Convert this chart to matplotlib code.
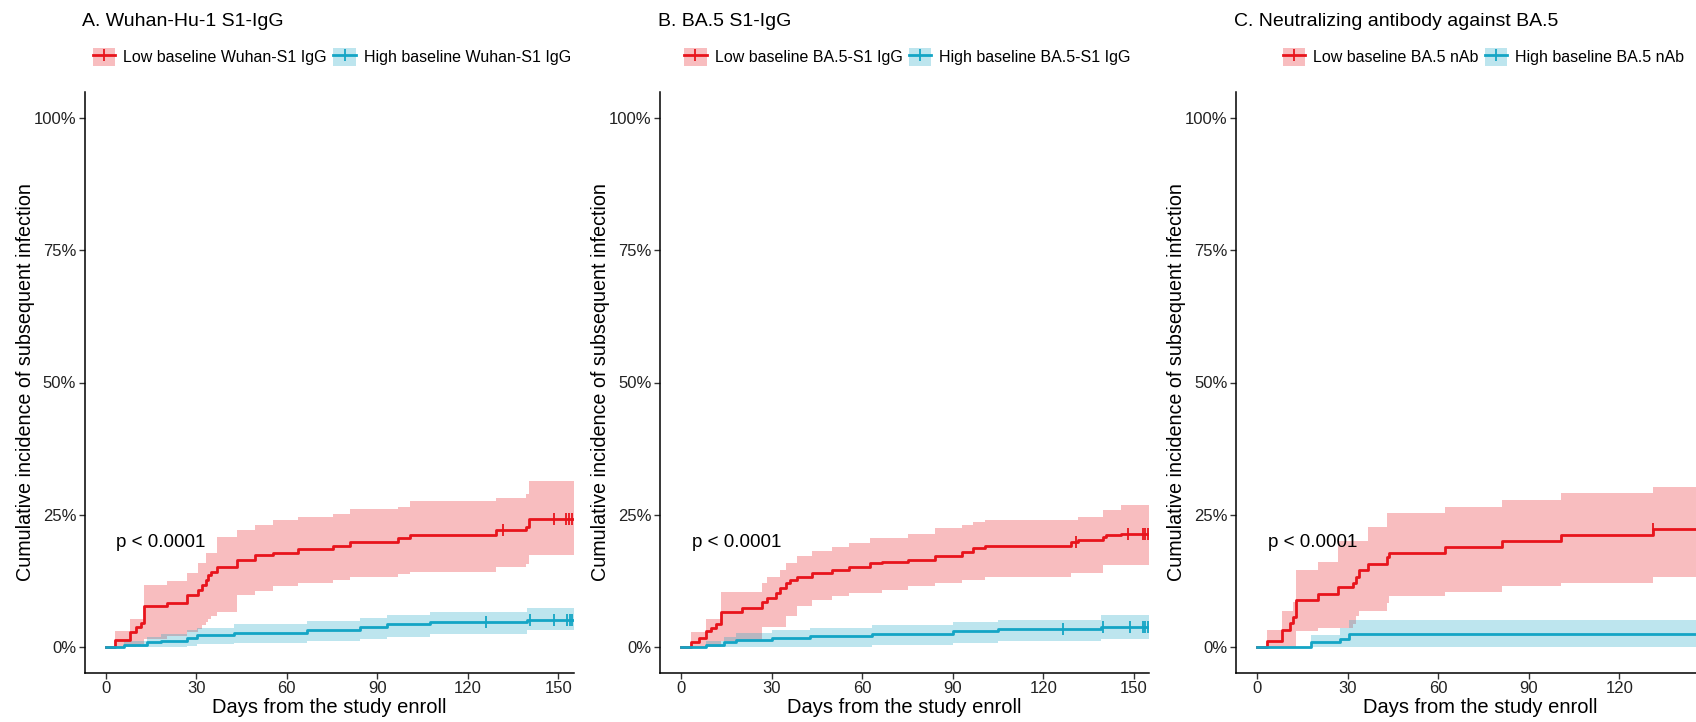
import matplotlib
matplotlib.use("Agg")
import matplotlib.pyplot as plt
from matplotlib.lines import Line2D
from matplotlib.patches import Patch
from matplotlib.ticker import FuncFormatter

plt.rcParams['font.family'] = ['Liberation Sans', 'DejaVu Sans']

# -----------------------------
# data: step times (days) and cumulative incidence (%)
# -----------------------------
END_DAY = 155

# A. Wuhan-Hu-1 S1-IgG
a_low_t = [0, 3.1, 8.1, 10.0, 11.6, 12.7, 20.2, 26.8, 30.5, 32.0, 33.1, 33.9, 35.0, 36.9,
           43.5, 49.6, 55.4, 63.6, 75.4, 81.0, 96.9, 100.8, 129.4, 139.3, 140.4]
a_low_y = [0, 1.3, 2.7, 3.7, 4.4, 7.6, 8.3, 9.8, 10.7, 11.7, 12.6, 13.6, 14.2, 15.1,
           16.4, 17.3, 17.8, 18.4, 19.0, 19.8, 20.5, 21.1, 22.0, 22.7, 24.2]
a_low_lo = [0, 0, 0, 0.3, 0.5, 1.5, 2.0, 2.8, 3.3, 4.0, 4.6, 5.3, 5.8, 6.5,
            9.8, 10.6, 11.4, 12.0, 12.6, 13.2, 13.7, 14.1, 15.1, 15.7, 17.3]
a_low_hi = [0, 3.0, 5.3, 5.3, 5.3, 11.6, 12.4, 14.0, 15.9, 15.9, 17.8, 17.8, 17.8, 20.7,
            22.0, 23.0, 23.9, 24.5, 25.1, 26.0, 26.5, 27.6, 28.2, 28.9, 31.4]
a_low_cens = [131.6, 148.5, 152.5, 153.5, 154.4]
a_high_t = [0, 6.0, 13.8, 18.2, 27.0, 30.3, 42.4, 66.6, 84.2, 93.1, 107.4, 139.6]
a_high_y = [0, 0.3, 0.8, 1.1, 1.7, 2.1, 2.6, 3.2, 3.7, 4.2, 4.6, 5.1]
a_high_lo = [0, 0, 0, 0, 0.2, 0.4, 0.7, 1.1, 1.5, 1.9, 2.3, 3.1]
a_high_hi = [0, 1.0, 1.8, 2.3, 3.2, 3.6, 4.2, 4.9, 5.5, 6.0, 6.5, 7.3]
a_high_cens = [126.1, 140.5, 148.7, 153.0, 153.8, 154.6]

# B. BA.5 S1-IgG
b_low_t = [0, 3.4, 6.0, 8.2, 9.8, 11.5, 13.1, 20.3, 26.9, 28.3, 31.3, 32.9, 34.6, 36.2,
           38.4, 43.4, 50.0, 55.5, 62.7, 66.5, 75.3, 84.1, 92.9, 96.8, 100.6, 129.3,
           131.5, 139.7, 140.8, 145.8]
b_low_y = [0, 0.9, 1.6, 2.9, 3.5, 4.3, 6.6, 7.3, 8.5, 9.2, 10.1, 11.0, 12.0, 12.6,
           13.2, 13.9, 14.5, 15.1, 15.8, 16.1, 16.4, 17.1, 18.0, 18.6, 19.0, 19.8,
           20.2, 20.8, 21.1, 21.4]
b_low_lo = [0, 0, 0, 0, 0, 0, 1.0, 1.3, 3.8, 3.8, 3.8, 3.8, 5.7, 5.7,
            7.6, 8.8, 9.5, 10.1, 10.1, 10.7, 11.4, 12.0, 12.6, 12.6, 13.2, 13.9,
            13.9, 15.4, 15.4, 15.4]
b_low_hi = [0, 2.7, 2.7, 5.2, 5.2, 5.2, 10.4, 10.4, 12.0, 13.2, 13.2, 14.5, 15.8, 15.8,
            17.1, 18.1, 18.9, 19.6, 20.5, 20.5, 21.3, 22.4, 23.0, 23.5, 23.9, 23.9,
            24.6, 25.8, 25.8, 26.8]
b_low_cens = [130.9, 148.0, 152.9, 153.8, 154.6]
b_high_t = [0, 8.2, 14.2, 18.1, 30.2, 42.8, 63.2, 90.2, 105.0, 139.2]
b_high_y = [0, 0.3, 0.8, 1.2, 1.6, 2.0, 2.4, 2.9, 3.3, 3.8]
b_high_lo = [0, 0, 0, 0, 0, 0, 0.3, 0.7, 1.0, 1.4]
b_high_hi = [0, 1.0, 1.8, 2.5, 3.1, 3.6, 4.1, 4.6, 5.0, 6.0]
b_high_cens = [126.5, 139.7, 148.7, 152.9, 153.8, 154.6]

# C. Neutralizing antibody against BA.5
c_low_t = [0, 3.3, 8.2, 11.0, 11.8, 12.9, 20.0, 26.9, 31.9, 32.8, 33.7, 36.8, 42.9,
           43.7, 62.1, 81.2, 100.7, 131.2]
c_low_y = [0, 1.0, 3.2, 4.4, 5.6, 8.8, 10.0, 11.2, 12.1, 13.2, 14.5, 15.6, 16.9,
           17.8, 18.9, 20.0, 21.1, 22.2]
c_low_lo = [0, 0, 0, 0, 0, 2.9, 3.5, 3.5, 4.3, 5.7, 6.8, 6.8, 8.2,
            9.5, 10.4, 11.4, 12.1, 13.1]
c_low_hi = [0, 3.1, 6.8, 6.8, 8.5, 14.5, 16.1, 20.0, 20.0, 20.0, 20.0, 22.7, 25.2,
            25.2, 26.4, 27.8, 29.1, 30.2]
c_low_cens = [131.2]
c_high_t = [0, 17.8, 27.5, 30.6]
c_high_y = [0, 0.8, 1.5, 2.3]
c_high_lo = [0, 0, 0, 0]
c_high_hi = [0, 2.2, 3.5, 5.0]
c_high_cens = []

titles = ["A. Wuhan-Hu-1 S1-IgG", "B. BA.5 S1-IgG", "C. Neutralizing antibody against BA.5"]
legend_labels = [
    ("Low baseline Wuhan-S1 IgG", "High baseline Wuhan-S1 IgG"),
    ("Low baseline BA.5-S1 IgG", "High baseline BA.5-S1 IgG"),
    ("Low baseline BA.5 nAb", "High baseline BA.5 nAb"),
]
p_text = "p < 0.0001"
x_ticks = [0, 30, 60, 90, 120, 150]
y_ticks = [0, 25, 50, 75, 100]

panels = [
    [(a_low_t, a_low_y, a_low_lo, a_low_hi, a_low_cens),
     (a_high_t, a_high_y, a_high_lo, a_high_hi, a_high_cens)],
    [(b_low_t, b_low_y, b_low_lo, b_low_hi, b_low_cens),
     (b_high_t, b_high_y, b_high_lo, b_high_hi, b_high_cens)],
    [(c_low_t, c_low_y, c_low_lo, c_low_hi, c_low_cens),
     (c_high_t, c_high_y, c_high_lo, c_high_hi, c_high_cens)],
]

RED = '#E8141C'
BLUE = '#14A5C5'
colors = [RED, BLUE]

# -----------------------------
# figure
# -----------------------------
W, H = 1696, 722
fig = plt.figure(figsize=(W / 100, H / 100), dpi=100)
ax_lefts = [84.5 / W, 660 / W, 1236 / W]
ax_w = 489 / W
ax_b = 49 / H
ax_h = 581 / H


def step_value(ts, ys, t):
    v = ys[0]
    for ti, yi in zip(ts, ys):
        if ti <= t:
            v = yi
    return v


for k, (left, groups) in enumerate(zip(ax_lefts, panels)):
    ax = fig.add_axes([left, ax_b, ax_w, ax_h])
    for (t, y, lo, hi, cens), col in zip(groups, colors):
        tt = list(t) + [END_DAY]
        yy = list(y) + [y[-1]]
        ll = list(lo) + [lo[-1]]
        hh = list(hi) + [hi[-1]]
        ax.fill_between(tt, ll, hh, step='post', color=col, alpha=0.28, linewidth=0)
        ax.step(tt, yy, where='post', color=col, linewidth=2.0)
        if cens:
            cy = [step_value(t, y, c) for c in cens]
            ax.plot(cens, cy, linestyle='none', marker='|', markersize=9,
                    markeredgewidth=1.3, color=col)

    ax.text(3.5, 19.8, p_text, fontsize=13.5, va='center', ha='left')

    ax.set_xlim(-7, END_DAY)
    ax.set_ylim(-5, 105)
    ax.set_xticks(x_ticks)
    ax.set_yticks(y_ticks)
    ax.yaxis.set_major_formatter(FuncFormatter(lambda v, _: f"{int(v)}%"))
    for s in ['top', 'right']:
        ax.spines[s].set_visible(False)
    for s in ['left', 'bottom']:
        ax.spines[s].set_linewidth(1.1)
    ax.tick_params(axis='both', labelsize=12, length=4, width=1.0, color='#333333',
                   labelcolor='#222222', pad=2)
    ax.set_xlabel("Days from the study enroll", fontsize=14.5, labelpad=1)
    ax.set_ylabel("Cumulative incidence of subsequent infection", fontsize=14.2, labelpad=-1)

    # title and legend above the panel
    fig.text(left - 2 / W, 1 - 22 / H, titles[k], fontsize=14, va='center', ha='left')
    handles = []
    for col in colors:
        handles.append((Patch(facecolor=col, alpha=0.28, edgecolor='none'),
                        Line2D([], [], color=col, linewidth=2.0, marker='|',
                               markersize=9, markeredgewidth=1.3)))
    ax.legend(handles, legend_labels[k], loc='center', ncol=2,
              bbox_to_anchor=(left + ax_w / 2 + 3 / W, 1 - 57 / H),
              bbox_transform=fig.transFigure,
              frameon=False, fontsize=11.5, handlelength=1.4, handleheight=1.4,
              handletextpad=0.5, columnspacing=0.4, borderaxespad=0)

fig.savefig("out.png", dpi=100)
